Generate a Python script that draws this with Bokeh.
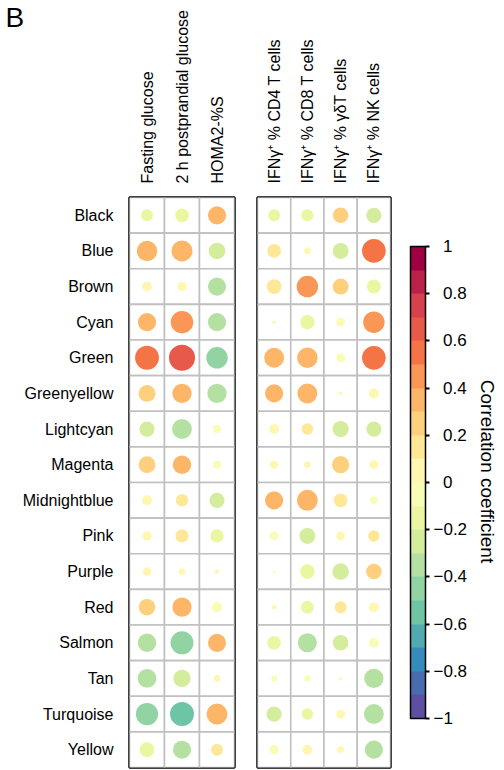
import numpy as np
from bokeh.plotting import figure
from bokeh.models import (ColumnDataSource, FactorRange, LinearColorMapper, ColorBar,
                          FixedTicker, Label, Range1d)
from bokeh.layouts import row
from bokeh.embed import file_html
from bokeh.resources import INLINE
from bokeh.transform import transform

# ---------------- data ----------------
modules = ["Black", "Blue", "Brown", "Cyan", "Green", "Greenyellow", "Lightcyan", "Magenta",
           "Midnightblue", "Pink", "Purple", "Red", "Salmon", "Tan", "Turquoise", "Yellow"]

metabolic_cols = ["Fasting glucose", "2 h postprandial glucose", "HOMA2-%S"]
immune_cols = ["IFNγ⁺ % CD4 T cells", "IFNγ⁺ % CD8 T cells", "IFNγ⁺ % γδT cells", "IFNγ⁺ % NK cells"]

fasting_glucose = [-0.13, 0.38, 0.09, 0.30, 0.52, 0.26, -0.21, 0.26,
                   0.09, 0.08, 0.07, 0.25, -0.31, -0.32, -0.45, -0.20]
postprandial_glucose = [-0.17, 0.40, 0.08, 0.46, 0.62, 0.34, -0.36, 0.31,
                        0.14, 0.16, 0.04, 0.34, -0.48, -0.27, -0.52, -0.30]
homa2_s = [0.30, -0.25, -0.30, -0.30, -0.42, -0.34, -0.06, -0.06,
           -0.21, -0.16, 0.02, -0.098, 0.30, 0.04, 0.40, 0.13]

ifng_cd4 = [-0.13, 0.17, 0.20, 0.01, 0.36, 0.30, 0.09, 0.06,
            0.30, -0.07, 0.005, 0.02, -0.17, -0.03, -0.21, -0.08]
ifng_cd8 = [-0.13, 0.04, 0.42, -0.19, 0.38, 0.36, 0.12, 0.04,
            0.40, -0.23, -0.19, -0.15, -0.33, -0.035, -0.12, 0.09]
ifng_gdt = [0.22, -0.23, 0.23, -0.07, -0.07, 0.01, -0.24, 0.27,
            0.17, 0.07, -0.25, 0.13, -0.22, -0.01, 0.07, 0.04]
ifng_nk = [-0.21, 0.51, -0.18, 0.42, 0.51, 0.09, -0.21, 0.07,
           -0.05, 0.12, 0.22, 0.09, -0.09, -0.34, -0.36, -0.30]

cbar_ticks = [-1, -0.8, -0.6, -0.4, -0.2, 0, 0.2, 0.4, 0.6, 0.8, 1]
cbar_tick_labels = ["−1", "−0.8", "−0.6", "−0.4", "−0.2", "0", "0.2", "0.4", "0.6", "0.8", "1"]

# ---------------- styling helpers ----------------
FONT = "Liberation Sans"
spectral_rev = ["#5e4fa2", "#3288bd", "#66c2a5", "#abdda4", "#e6f598", "#ffffbf",
                "#fee08b", "#fdae61", "#f46d43", "#d53e4f", "#9e0142"]


def ramp(colors, n):
    rgb = np.array([[int(c[i:i + 2], 16) for i in (1, 3, 5)] for c in colors], float)
    out = []
    for v in np.linspace(0, len(colors) - 1, n):
        i = min(int(np.floor(v)), len(colors) - 2)
        f = v - i
        c = rgb[i] * (1 - f) + rgb[i + 1] * f
        out.append("#%02x%02x%02x" % tuple(int(round(x)) for x in c))
    return out


palette = ramp(spectral_rev, 20)
mapper = LinearColorMapper(palette=palette, low=-1, high=1)


def make_source(cols, series):
    xs, ys, rs = [], [], []
    for c, vals in zip(cols, series):
        for m, v in zip(modules, vals):
            xs.append(c)
            ys.append(m)
            rs.append(v)
    rad = [0.465 * np.sqrt(abs(v)) for v in rs]
    return ColumnDataSource(dict(col=xs, row=ys, r=rs, rad=rad))


def panel(cols, series, width, border_left, border_right, show_y):
    p = figure(width=width, height=770,
               x_range=FactorRange(*cols), y_range=FactorRange(*reversed(modules)),
               x_axis_location="above", y_axis_location="left" if show_y else None,
               output_backend="svg", toolbar_location=None,
               min_border_left=border_left, min_border_right=border_right,
               min_border_top=197, min_border_bottom=3)
    src = make_source(cols, series)
    p.rect(x="col", y="row", width=1, height=1, fill_color="white",
           line_color="#c0c0c0", line_width=1.6, source=src)
    p.circle(x="col", y="row", radius="rad", radius_dimension="y",
             fill_color=transform("r", mapper), line_color=None, source=src)
    p.xgrid.visible = False
    p.ygrid.visible = False
    p.outline_line_color = "black"
    p.outline_line_width = 2.5
    p.background_fill_color = "white"
    p.border_fill_color = "white"
    for ax in p.xaxis:
        ax.major_label_orientation = "vertical"
        ax.axis_line_color = None
        ax.major_tick_line_color = None
        ax.major_tick_out = 0
        ax.major_label_standoff = 14
        ax.major_label_text_font = FONT
        ax.major_label_text_font_size = "16px"
        ax.major_label_text_color = "black"
    if show_y:
        for ax in p.yaxis:
            ax.axis_line_color = None
            ax.major_tick_line_color = None
            ax.major_tick_out = 0
            ax.major_label_standoff = 16
            ax.major_label_text_font = FONT
            ax.major_label_text_font_size = "16px"
            ax.major_label_text_color = "black"
    return p


p1 = panel(metabolic_cols, [fasting_glucose, postprandial_glucose, homa2_s],
           246, 127, 12, True)
p2 = panel(immune_cols, [ifng_cd4, ifng_cd8, ifng_gdt, ifng_nk],
           146, 11, 2, False)

# panel letter, placed in the left side panel (side-panel annotations are not clipped)
p1.add_layout(Label(x=5, y=750, x_units="screen", y_units="screen", text="B",
                    text_font=FONT, text_font_size="28px", text_color="black",
                    text_baseline="alphabetic", text_align="left"), "left")

# colour-bar figure
p3 = figure(width=112, height=770, x_range=Range1d(0, 1), y_range=Range1d(0, 1),
            x_axis_location=None, y_axis_location=None, output_backend="svg",
            toolbar_location=None, min_border=0)
p3.xgrid.visible = False
p3.ygrid.visible = False
p3.outline_line_color = None
p3.background_fill_color = "white"
p3.border_fill_color = "white"

overrides = {t: (lab if lab.startswith("−") else "\u2007" + lab)
             for t, lab in zip(cbar_ticks, cbar_tick_labels)}
cb = ColorBar(color_mapper=mapper, ticker=FixedTicker(ticks=cbar_ticks),
              major_label_overrides=overrides, width=15, height=472,
              location=(18, 49), margin=0, padding=0,
              major_tick_in=0, major_tick_out=4, major_tick_line_color="black",
              major_tick_line_width=2, minor_tick_line_color=None,
              bar_line_color="black", bar_line_width=1.5,
              label_standoff=4, major_label_text_font=FONT,
              major_label_text_font_size="17px", major_label_text_color="black",
              background_fill_color=None, border_line_color=None)
p3.add_layout(cb, "center")

p3.add_layout(Label(x=94.5, y=296, x_units="screen", y_units="screen",
                    text="Correlation coefficient", angle=-np.pi / 2,
                    text_font=FONT, text_font_size="19px", text_color="black",
                    text_align="center", text_baseline="middle"))

layout = row(p1, p2, p3)
open("out.html", "w").write(file_html(layout, INLINE))
